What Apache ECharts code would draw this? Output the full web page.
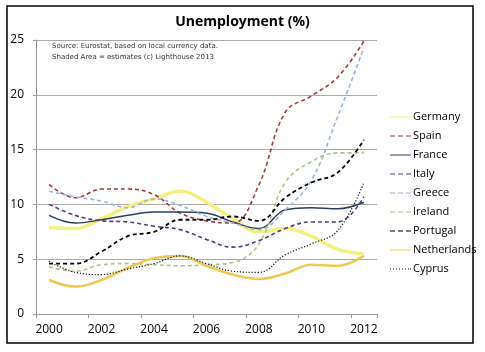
<!DOCTYPE html>
<html>
<head>
<meta charset="utf-8">
<script src="https://cdn.jsdelivr.net/npm/echarts@6/dist/echarts.min.js"></script>
<style>
  html, body { margin: 0; padding: 0; background: #fff; }
  #main { width: 485px; height: 352px; }
</style>
</head>
<body>
<div id="main"></div>
<script>
var years = ['2000', '2001', '2002', '2003', '2004', '2005', '2006', '2007', '2008', '2009', '2010', '2011', '2012'];
var germany = [7.9, 7.8, 8.7, 9.8, 10.5, 11.2, 10.2, 8.7, 7.5, 7.8, 7.1, 5.9, 5.5];
var spain = [11.8, 10.6, 11.4, 11.4, 10.9, 9.2, 8.5, 8.3, 11.8, 18.4, 19.9, 21.6, 24.9];
var france = [9.0, 8.3, 8.6, 9.0, 9.3, 9.3, 9.2, 8.4, 7.8, 9.5, 9.7, 9.6, 10.2];
var italy = [10.0, 9.0, 8.5, 8.4, 8.0, 7.7, 6.8, 6.1, 6.7, 7.8, 8.4, 8.4, 10.7];
var greece = [11.2, 10.7, 10.3, 9.7, 10.5, 9.9, 8.9, 8.3, 7.7, 9.5, 12.2, 18.0, 24.3];
var ireland = [4.3, 3.9, 4.5, 4.6, 4.5, 4.4, 4.5, 4.7, 6.4, 12.0, 13.9, 14.7, 14.7];
var portugal = [4.6, 4.6, 5.7, 7.1, 7.5, 8.6, 8.6, 8.9, 8.5, 10.6, 12.0, 12.9, 15.9];
var netherlands = [3.1, 2.5, 3.1, 4.2, 5.1, 5.3, 4.4, 3.6, 3.2, 3.7, 4.5, 4.4, 5.3];
var cyprus = [4.8, 3.8, 3.6, 4.1, 4.6, 5.3, 4.6, 3.9, 3.8, 5.4, 6.4, 7.6, 12.0];

var chart = echarts.init(document.getElementById('main'));

var solidIcon = 'path://M0,0h21v1h-21z';
var dashIcon = 'path://M0,0h5v1h-5z M8,0h5v1h-5z M16,0h5v1h-5z';
var dotIcon = 'path://M0,0h1v1h-1z M3,0h1v1h-1z M6,0h1v1h-1z M9,0h1v1h-1z M12,0h1v1h-1z M15,0h1v1h-1z M18,0h1v1h-1z M20,0h1v1h-1z';

function line(name, data, color, width, type) {
  return {
    name: name,
    type: 'line',
    data: data,
    smooth: 0.4,
    symbol: 'none',
    lineStyle: { color: color, width: width, type: type },
    itemStyle: { color: color }
  };
}

var option = {
  animation: false,
  backgroundColor: '#fff',
  title: {
    text: 'Unemployment (%)',
    left: 'center',
    top: 10,
    textStyle: { fontFamily: 'Open Sans', fontSize: 14, fontWeight: 'bold', color: '#000' }
  },
  graphic: [
    {
      type: 'rect',
      shape: { x: 7, y: 6, width: 466, height: 337 },
      style: { fill: 'none', stroke: '#000', lineWidth: 1.5 }
    },
    {
      type: 'text',
      left: 52, top: 41,
      style: {
        text: 'Source: Eurostat, based on local currency data.\nShaded Area = estimates (c) Lighthouse 2013',
        font: '7px "DejaVu Sans"', fill: '#333', lineHeight: 11
      }
    }
  ],
  legend: {
    orient: 'vertical',
    left: 385,
    top: 104,
    itemGap: 3,
    itemWidth: 21,
    itemHeight: 2,
    textStyle: { fontFamily: 'Open Sans', fontSize: 11, color: '#000', lineHeight: 16, padding: [0, 0, 0, -3] },
    data: [
      { name: 'Germany', icon: solidIcon },
      { name: 'Spain', icon: dashIcon },
      { name: 'France', icon: solidIcon },
      { name: 'Italy', icon: dashIcon },
      { name: 'Greece', icon: dashIcon },
      { name: 'Ireland', icon: dashIcon },
      { name: 'Portugal', icon: dashIcon },
      { name: 'Netherlands', icon: solidIcon },
      { name: 'Cyprus', icon: dotIcon }
    ]
  },
  grid: { left: 36, right: 108, top: 40, bottom: 38 },
  xAxis: {
    type: 'category',
    data: years,
    boundaryGap: true,
    axisLine: { lineStyle: { color: '#999' } },
    axisTick: { show: true, length: 4, lineStyle: { color: '#999' } },
    axisLabel: { interval: 1, color: '#000', fontFamily: 'Open Sans', fontSize: 12, margin: 10 }
  },
  yAxis: {
    type: 'value',
    min: 0,
    max: 25,
    interval: 5,
    axisLine: { show: true, lineStyle: { color: '#999' } },
    axisTick: { show: true, length: 3, lineStyle: { color: '#999' } },
    splitLine: { lineStyle: { color: '#aaa' } },
    axisLabel: { color: '#000', fontFamily: 'Open Sans', fontSize: 12, margin: 12 }
  },
  series: [
    line('Germany', germany, '#f4f080', 3.5, 'solid'),
    line('Spain', spain, '#a33a3e', 1.6, [4, 3]),
    line('France', france, '#2a3f5c', 1.5, 'solid'),
    line('Italy', italy, '#4e3f78', 1.6, [4, 3]),
    line('Greece', greece, '#98b4d6', 1.6, [4, 3]),
    line('Ireland', ireland, '#a9c783', 1.6, [4, 3]),
    line('Portugal', portugal, '#000000', 1.8, [4, 3]),
    line('Netherlands', netherlands, '#ecc94e', 2.5, 'solid'),
    line('Cyprus', cyprus, '#111111', 1.2, [1.2, 1.8])
  ]
};

chart.setOption(option);
</script>
</body>
</html>
